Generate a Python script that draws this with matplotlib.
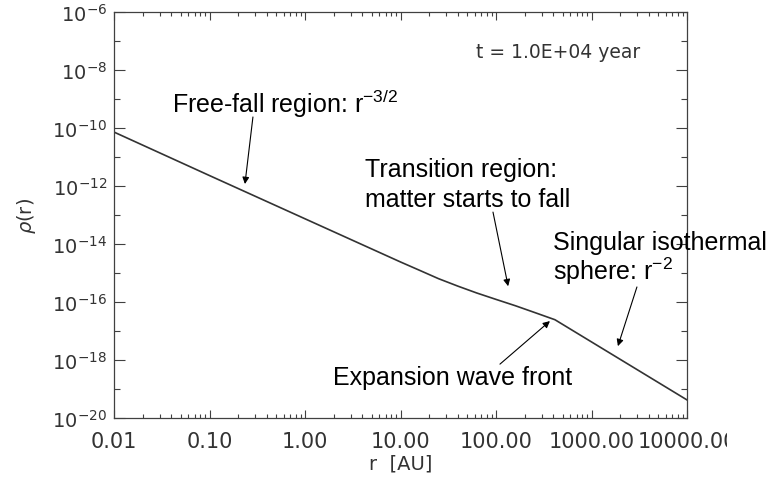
import matplotlib
matplotlib.use("Agg")
import matplotlib.pyplot as plt
from matplotlib.ticker import FixedLocator, NullFormatter
from matplotlib.transforms import Bbox

# density profile of the collapsing cloud at t = 1e4 yr
r_au = [0.01, 0.1, 1.0, 10.0, 16.0, 25.0, 40.0, 63.0, 100.0, 160.0, 250.0,
        414.0, 1000.0, 10000.0]
rho = [7.24e-11, 2.29e-12, 7.4e-14, 2.40e-15, 1.22e-15, 6.38e-16, 3.51e-16,
       2.04e-16, 1.23e-16, 7.41e-17, 4.42e-17, 2.45e-17, 4.2e-18, 4.2e-20]

x_ticks = [0.01, 0.1, 1.0, 10.0, 100.0, 1000.0, 10000.0]
x_labels = ["0.01", "0.10", "1.00", "10.00", "100.00", "1000.00", "10000.00"]
y_major_exp = [-6, -8, -10, -12, -14, -16, -18, -20]
y_minor_exp = [-7, -9, -11, -13, -15, -17, -19]

plt.rcParams['mathtext.fontset'] = 'custom'
plt.rcParams['mathtext.rm'] = 'Liberation Sans'
plt.rcParams['mathtext.it'] = 'Liberation Sans:italic'

fig = plt.figure(figsize=(7.71, 4.85), dpi=100)
ax = fig.add_axes([114 / 771, 1 - 419 / 485, 573 / 771, 406 / 485])

ax.plot(r_au, rho, color="#333333", lw=1.2)
ax.set_xscale("log")
ax.set_yscale("log")
ax.set_xlim(0.01, 10000)
ax.set_ylim(1e-20, 1e-6)

ax.set_xticks(x_ticks, x_labels)
ax.yaxis.set_major_locator(FixedLocator([10.0 ** e for e in y_major_exp]))
ax.yaxis.set_minor_locator(FixedLocator([10.0 ** e for e in y_minor_exp]))
ax.yaxis.set_minor_formatter(NullFormatter())
ax.set_yticklabels([f"$10^{{{e}}}$" for e in y_major_exp])
for lab in ax.get_yticklabels():
    lab.set_math_fontfamily("dejavusans")

axis_col = "#404040"
for sp in ax.spines.values():
    sp.set_color(axis_col)
    sp.set_linewidth(0.9)
ax.tick_params(which="both", direction="in", top=True, right=True, colors=axis_col,
               labelcolor="#333333", width=0.8, labelsize=14)
ax.tick_params(axis="x", which="major", length=6, pad=9, labelsize=15)
ax.tick_params(axis="x", which="minor", length=3)
ax.tick_params(axis="y", which="major", length=8, pad=5)
ax.tick_params(axis="y", which="minor", length=4)

ax.set_xlabel("r  [AU]", fontsize=14, color="#333333", labelpad=2)
ax.set_ylabel(r"$\rho$(r)", fontsize=14, color="#333333", labelpad=10)
ax.yaxis.label.set_math_fontfamily("dejavusans")

# the last x label runs off the plot window
last = ax.xaxis.get_major_ticks()[-1].label1
last.set_clip_box(Bbox.from_extents(0, 0, 727, 485))
last.set_clip_on(True)

ax.text(0.918, 0.889, "t = 1.0E+04 year", transform=ax.transAxes, ha="right",
        va="baseline", fontsize=13.5, color="#333333")

txt = dict(transform=ax.transAxes, fontsize=18, family="Liberation Sans",
           va="baseline", ha="left", color="black", clip_on=False)
ax.text(0.1012, 0.7537, "Free-fall region: r$^{-3/2}$", **txt)
ax.text(0.4380, 0.5961, "Transition region:", **txt)
ax.text(0.4380, 0.5222, "matter starts to fall", **txt)
ax.text(0.7661, 0.4163, "Singular isothermal", **txt)
ax.text(0.7661, 0.3424, "sphere: r$^{-2}$", **txt)
ax.text(0.3822, 0.0837, "Expansion wave front", **txt)

arrow = dict(arrowstyle="-|>", color="black", lw=0.8, mutation_scale=10,
             shrinkA=0, shrinkB=0)
ax.annotate("", xy=(0.235, 1.17e-12), xytext=(0.285, 2.4e-10), arrowprops=arrow)
ax.annotate("", xy=(134, 3.5e-16), xytext=(93, 1.26e-13), arrowprops=arrow)
ax.annotate("", xy=(367, 2.2e-17), xytext=(110, 7.2e-19), arrowprops=arrow)
ax.annotate("", xy=(1890, 3.0e-18), xytext=(2990, 3.3e-16), arrowprops=arrow)

fig.savefig("out.png", dpi=100)
